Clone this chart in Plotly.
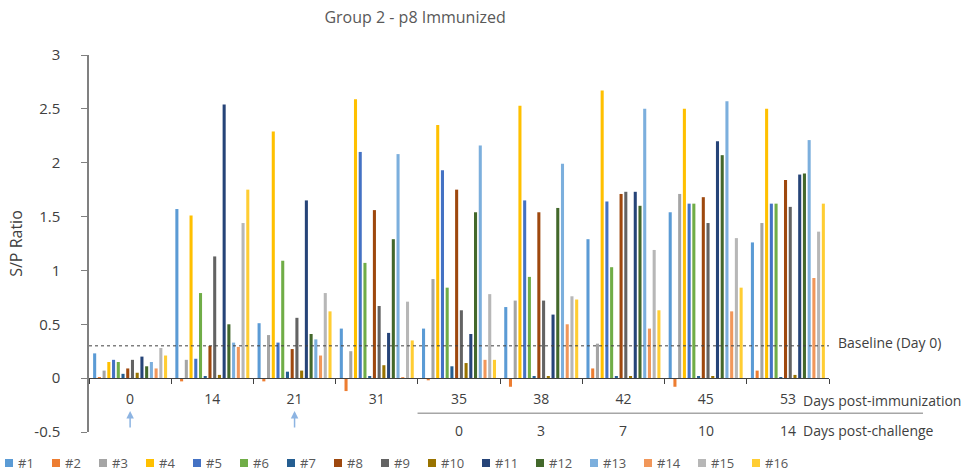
import plotly.graph_objects as go

# Sampling days (days post-immunization) and animal IDs
days = ["0", "14", "21", "31", "35", "38", "42", "45", "53"]
challenge_days = ["0", "3", "7", "10", "14"]
animals = ["#1", "#2", "#3", "#4", "#5", "#6", "#7", "#8",
           "#9", "#10", "#11", "#12", "#13", "#14", "#15", "#16"]
y_ticks = [-0.5, 0, 0.5, 1, 1.5, 2, 2.5, 3]
y_tick_labels = ["-0.5", "0", "0.5", "1", "1.5", "2", "2.5", "3"]

# S/P ratio per animal, one value per sampling day
sp_1 = [0.23, 1.57, 0.51, 0.46, 0.46, 0.66, 1.29, 1.54, 1.26]
sp_2 = [0.01, -0.03, -0.03, -0.12, -0.02, -0.08, 0.09, -0.08, 0.07]
sp_3 = [0.07, 0.17, 0.40, 0.25, 0.92, 0.72, 0.32, 1.71, 1.44]
sp_4 = [0.15, 1.51, 2.29, 2.59, 2.35, 2.53, 2.67, 2.50, 2.50]
sp_5 = [0.17, 0.18, 0.33, 2.10, 1.93, 1.65, 1.64, 1.62, 1.62]
sp_6 = [0.15, 0.79, 1.09, 1.07, 0.84, 0.94, 1.03, 1.62, 1.62]
sp_7 = [0.04, 0.02, 0.06, 0.02, 0.11, 0.02, 0.02, 0.02, 0.01]
sp_8 = [0.09, 0.30, 0.27, 1.56, 1.75, 1.54, 1.71, 1.68, 1.84]
sp_9 = [0.17, 1.13, 0.56, 0.67, 0.63, 0.72, 1.73, 1.44, 1.59]
sp_10 = [0.05, 0.03, 0.07, 0.12, 0.14, 0.02, 0.02, 0.02, 0.03]
sp_11 = [0.20, 2.54, 1.65, 0.42, 0.41, 0.59, 1.73, 2.20, 1.89]
sp_12 = [0.11, 0.50, 0.41, 1.29, 1.54, 1.58, 1.60, 2.07, 1.90]
sp_13 = [0.15, 0.33, 0.36, 2.08, 2.16, 1.99, 2.50, 2.57, 2.21]
sp_14 = [0.09, 0.29, 0.21, 0.01, 0.17, 0.50, 0.46, 0.62, 0.93]
sp_15 = [0.28, 1.44, 0.79, 0.71, 0.78, 0.76, 1.19, 1.30, 1.36]
sp_16 = [0.21, 1.75, 0.62, 0.35, 0.17, 0.73, 0.63, 0.84, 1.62]

series = [sp_1, sp_2, sp_3, sp_4, sp_5, sp_6, sp_7, sp_8,
          sp_9, sp_10, sp_11, sp_12, sp_13, sp_14, sp_15, sp_16]

baseline = 0.3
immunization_idx = [0, 2]   # booster doses given on these sampling days
challenge_idx = 4           # challenge day (day 35)

colors = ["#5B9BD5", "#ED7D31", "#A5A5A5", "#FFC000", "#4472C4", "#70AD47",
          "#255E91", "#9E480E", "#636363", "#997300", "#264478", "#43682B",
          "#7CAFDD", "#F1975A", "#B7B7B7", "#FFCD33"]

TEXT = "#595959"
DARK = "#404040"
FONT = "Open Sans"

W, H = 979, 476
ML, MR, MT, MB = 89, 150, 55, 44
PW, PH = W - ML - MR, H - MT - MB


def px_to_paper(px, py):
    return (px - ML) / PW, (H - MB - py) / PH


fig = go.Figure()
for name, vals, col in zip(animals, series, colors):
    fig.add_trace(go.Bar(x=days, y=vals, name=name, marker_color=col,
                         marker_line_width=0, showlegend=False))

# baseline (day 0) cut-off
fig.add_shape(type="line", xref="paper", yref="y", x0=0, x1=1,
              y0=baseline, y1=baseline, layer="above",
              line=dict(color=DARK, width=1, dash="dot"))
fig.add_annotation(xref="paper", yref="y", x=1.01, y=baseline + 0.03,
                   text="Baseline (Day 0)", showarrow=False, xanchor="left",
                   font=dict(size=14, color=DARK, family=FONT))

# captions for the two day scales
fig.add_annotation(xref="paper", yref="y", x=0.962, y=-0.204,
                   text="Days post-immunization", showarrow=False,
                   xanchor="left", font=dict(size=14, color=DARK, family=FONT))
fig.add_shape(type="line", xref="paper", yref="y", x0=0.444, x1=1.127,
              y0=-0.325, y1=-0.325, line=dict(color="#A6A6A6", width=1.5))
for i, d in enumerate(challenge_days):
    fig.add_annotation(xref="x", yref="y", x=challenge_idx + i, y=-0.483,
                       text=d, showarrow=False,
                       font=dict(size=14, color=DARK, family=FONT))
fig.add_annotation(xref="paper", yref="y", x=0.962, y=-0.483,
                   text="Days post-challenge", showarrow=False,
                   xanchor="left", font=dict(size=14, color=DARK, family=FONT))

# challenge marker and immunization arrows
fig.add_annotation(xref="x", yref="y", x=challenge_idx, y=-0.6, text="▲",
                   showarrow=False, font=dict(size=9, color="#C00000"))
for i in immunization_idx:
    fig.add_annotation(xref="x", yref="y", x=i, y=-0.306, text="",
                       showarrow=True, ax=0, ay=18, arrowhead=2, arrowsize=1,
                       arrowwidth=1.5, arrowcolor="#8DB4E2")

# single-row key along the bottom edge
key_x, key_y = 5, 463
for name, col in zip(animals, colors):
    x0, y0 = px_to_paper(key_x, key_y - 4)
    x1, y1 = px_to_paper(key_x + 8, key_y + 4)
    fig.add_shape(type="rect", xref="paper", yref="paper",
                  x0=x0, x1=x1, y0=y0, y1=y1,
                  fillcolor=col, line=dict(width=0))
    tx, ty = px_to_paper(key_x + 11, key_y)
    fig.add_annotation(xref="paper", yref="paper", x=tx, y=ty, text=name,
                       showarrow=False, xanchor="left", yanchor="middle",
                       font=dict(size=13, color=TEXT, family=FONT))
    key_x += 33 + 7 * len(name)

fig.update_layout(
    width=W, height=H,
    margin=dict(l=ML, r=MR, t=MT, b=MB),
    paper_bgcolor="white", plot_bgcolor="white",
    barmode="group", bargap=0.08, bargroupgap=0.35,
    font=dict(family=FONT, color=TEXT),
    showlegend=False,
    title=dict(text="Group 2 - p8 Immunized", x=0.424, y=0.964,
               xanchor="center", yanchor="middle",
               font=dict(size=16, color=TEXT, family=FONT)),
    xaxis=dict(type="category", anchor="free", position=0.1432,
               range=[-0.5, len(days) - 0.5],
               showline=True, linecolor=DARK, linewidth=1,
               ticks="outside", tickson="boundaries", ticklen=5,
               tickcolor=DARK, ticklabelstandoff=8,
               tickfont=dict(size=14, color=DARK, family=FONT),
               showgrid=False),
    yaxis=dict(range=[-0.5, 3], tickvals=y_ticks, ticktext=y_tick_labels,
               showgrid=False, zeroline=False,
               showline=True, linecolor="#808080", linewidth=1.5,
               ticks="outside", ticklen=6, tickcolor="#808080",
               ticklabelstandoff=18,
               tickfont=dict(size=15, color=DARK, family=FONT),
               title=dict(text="S/P Ratio", standoff=8,
                          font=dict(size=16, color=DARK, family=FONT))),
)

fig.write_html("out.html")
